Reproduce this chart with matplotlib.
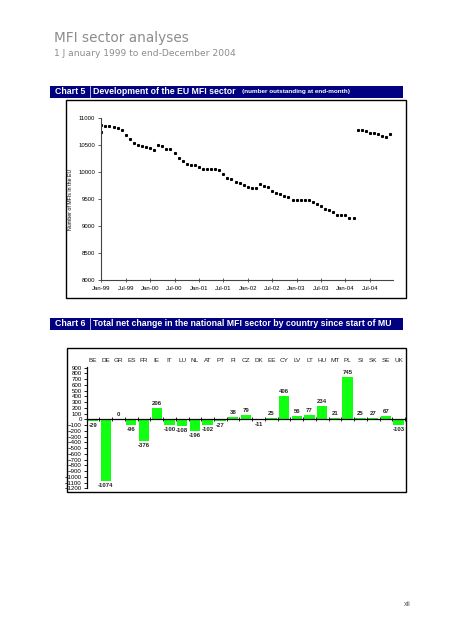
import numpy as np
import matplotlib
matplotlib.use("Agg")
import matplotlib.pyplot as plt
from matplotlib.patches import Rectangle

# chart 5: number of MFIs in the EU, end-month, Jan-99 .. Dec-04
start_value = 10750
mfi_count = [10863, 10845, 10845, 10831, 10812, 10787, 10694, 10612, 10537, 10506,
             10481, 10469, 10437, 10412, 10494, 10481, 10431, 10418, 10343, 10268,
             10206, 10143, 10137, 10137, 10087, 10062, 10056, 10056, 10056, 10043,
             9962, 9887, 9868, 9806, 9793, 9768, 9718, 9699, 9699, 9774,
             9743, 9718, 9649, 9618, 9593, 9562, 9530, 9474, 9474, 9474,
             9486, 9474, 9437, 9405, 9368, 9318, 9293, 9255, 9212, 9205,
             9205, 9143, 9155, 10769, 10775, 10756, 10731, 10725, 10700, 10675,
             10650, 10712]
month_labels = ["Jan-99", "Jul-99", "Jan-00", "Jul-00", "Jan-01", "Jul-01",
                "Jan-02", "Jul-02", "Jan-03", "Jul-03", "Jan-04", "Jul-04"]

# chart 6: total net change by country
countries = ["BE", "DE", "GR", "ES", "FR", "IE", "IT", "LU", "NL", "AT", "PT", "FI", "CZ",
             "DK", "EE", "CY", "LV", "LT", "HU", "MT", "PL", "SI", "SK", "SE", "UK"]
net_change = [-29, -1074, 0, -96, -376, 206, -100, -108, -196, -102, -27, 38, 79,
              -11, 25, 406, 56, 77, 234, 21, 745, 25, 27, 67, -103]

W, H = 452, 640
NAVY = "#000080"
fig = plt.figure(figsize=(W / 100, H / 100), dpi=100)


def rect(x0, y0, x1, y1):
    return [x0 / W, 1 - y1 / H, (x1 - x0) / W, (y1 - y0) / H]


def box(x0, y0, x1, y1, **kw):
    fig.add_artist(Rectangle((x0 / W, 1 - y1 / H), (x1 - x0) / W, (y1 - y0) / H,
                             transform=fig.transFigure, **kw))


def header(y0, y1, num, title, sub=None):
    box(50, y0, 403, y1, facecolor=NAVY, edgecolor="none")
    fig.add_artist(plt.Line2D([90 / W, 90 / W], [1 - y0 / H, 1 - y1 / H],
                              transform=fig.transFigure, color="white", lw=0.5))
    ym = 1 - (y0 + y1) / 2 / H
    fig.text(55 / W, ym, num, color="white", fontsize=6.3, fontweight="bold",
             family="Liberation Sans", va="center")
    t = fig.text(93 / W, ym, title, color="white", fontsize=6.3, fontweight="bold",
                 family="Liberation Sans", va="center")
    if sub:
        fig.canvas.draw()
        bb = t.get_window_extent()
        fig.text((bb.x1 + 6) / W, ym, sub, color="white", fontsize=4.6,
                 fontweight="bold", family="Liberation Sans", va="center")


# page titles
fig.text(54 / W, 1 - 38 / H, "MFI sector analyses", color="#8c8c8c", fontsize=9.8,
         family="DejaVu Sans", va="center")
fig.text(54 / W, 1 - 53 / H, "1 J anuary 1999 to end-December 2004", color="#8c8c8c",
         fontsize=6.6, family="DejaVu Sans", va="center")
fig.text(404 / W, 1 - 605 / H, "xii", color="#555555", fontsize=5,
         family="Liberation Sans", va="center")

# ---- chart 5 ----
header(86, 98, "Chart 5", "Development of the EU MFI sector",
       "(number outstanding at end-month)")
box(65.5, 99.5, 406, 297.5, facecolor="none", edgecolor="black", lw=1.0)

ax1 = fig.add_axes(rect(100.5, 118, 393, 280))
months = np.arange(len(mfi_count))
ax1.plot(months, mfi_count, ls="none", marker="s", ms=1.2, color="black")
ax1.plot([0], [start_value], ls="none", marker="s", ms=1.2, color="black")
ax1.set_xlim(-0.2, 71.7)
ax1.set_ylim(8000, 11000)
ax1.set_yticks(np.arange(8000, 11001, 500))
ax1.set_xticks(np.arange(0, 72, 6))
ax1.set_xticklabels(month_labels)
ax1.spines[["top", "right"]].set_visible(False)
for s in ["left", "bottom"]:
    ax1.spines[s].set_color("#444444")
    ax1.spines[s].set_linewidth(0.8)
ax1.tick_params(axis="both", labelsize=4.3, length=2, width=0.6, color="#444444", pad=2)
ax1.tick_params(axis="x", direction="inout", length=3, pad=3)
for lab in ax1.get_xticklabels() + ax1.get_yticklabels():
    lab.set_family("Liberation Sans")
ax1.set_ylabel("Number of MFIs in the EU", fontsize=3.8, family="Liberation Sans",
               labelpad=4)
ax1.patch.set_alpha(0)

# ---- chart 6 ----
header(318, 330, "Chart 6",
       "Total net change in the national MFI sector by country since start of MU")
box(66.5, 347.5, 406.5, 491.5, facecolor="none", edgecolor="black", lw=1.0)

ax2 = fig.add_axes(rect(86.7, 366.7, 405, 488.3))
pos = np.arange(len(countries))
ax2.bar(pos, net_change, width=0.82, color="#11ff11", edgecolor="none")
ax2.set_xlim(-0.5, len(countries) - 0.5)
ax2.set_ylim(-1200, 917)
ax2.set_yticks(np.arange(-1200, 901, 100))
ax2.set_xticks(pos)
ax2.set_xticklabels(countries)
ax2.set_xticks(np.arange(len(countries) + 1) - 0.5, minor=True)
ax2.spines[["top", "right"]].set_visible(False)
ax2.spines["bottom"].set_position(("data", 0))
ax2.spines["bottom"].set_linewidth(0.9)
ax2.spines["left"].set_linewidth(0.9)
ax2.tick_params(axis="x", which="major", top=True, labeltop=True, bottom=False,
                labelbottom=False, length=0, labelsize=4.6, pad=3, labelcolor="#222222")
ax2.tick_params(axis="x", which="minor", bottom=True, direction="inout", length=2.5,
                width=0.6)
ax2.tick_params(axis="y", labelsize=4.4, length=2, width=0.6, pad=1.5)
for lab in ax2.get_xticklabels() + ax2.get_yticklabels():
    lab.set_family("Liberation Sans")
for x, v in zip(pos, net_change):
    if v >= 0:
        ax2.text(x, v + 35, str(v), ha="center", va="bottom", fontsize=4.3,
                 fontweight="bold", family="Liberation Sans", color="#222222")
    else:
        ax2.text(x, v - 35, str(v), ha="center", va="top", fontsize=4.3,
                 fontweight="bold", family="Liberation Sans", color="#222222")
ax2.patch.set_alpha(0)

fig.savefig("out.png", dpi=100)
